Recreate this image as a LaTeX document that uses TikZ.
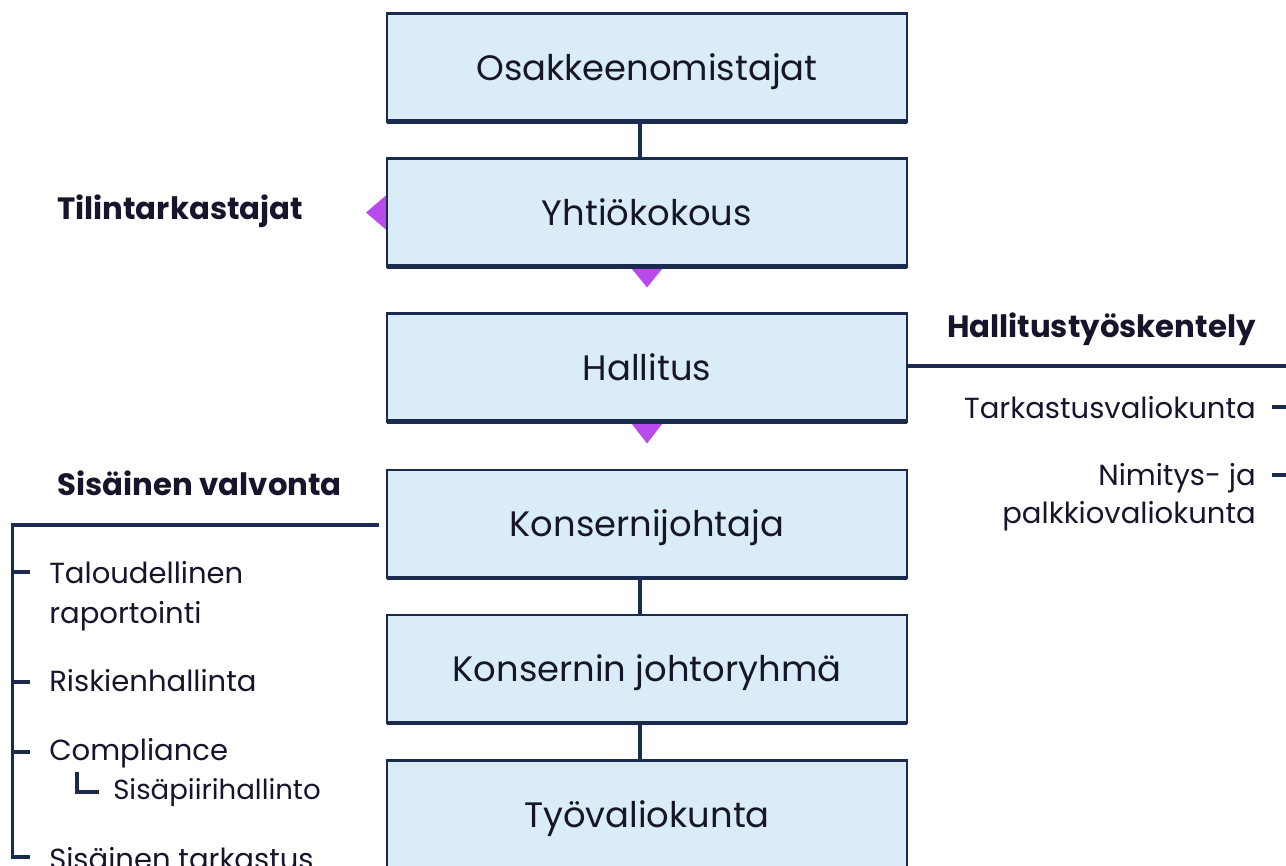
\documentclass[tikz,border=0pt]{standalone}
\usepackage{fontspec}
\setmainfont{Poppins}
\usetikzlibrary{calc,backgrounds}

\definecolor{navy}{HTML}{1B2B4D}
\definecolor{ink}{HTML}{17152C}
\definecolor{boxfill}{HTML}{D9ECF7}
\definecolor{violet}{HTML}{B94AEB}

\tikzset{
  orgbox/.style={draw=navy, line width=1.7pt, fill=boxfill, text=ink,
    minimum width=390pt, minimum height=81pt, inner sep=0pt, outer sep=0pt,
    text height=18.75pt, text depth=0pt, font=\fontsize{26.5pt}{30pt}\selectfont},
  basebar/.style={draw=navy, line width=3.2pt},
  link/.style={draw=navy, line width=2.5pt},
  rule/.style={draw=navy, line width=2.5pt},
  marker/.style={fill=violet},
  head/.style={text=ink, inner sep=0pt, font=\fontsize{23.1pt}{26pt}\selectfont\bfseries},
  item/.style={text=ink, inner sep=0pt, font=\fontsize{21.8pt}{26pt}\selectfont},
  subitem/.style={text=ink, inner sep=0pt, font=\fontsize{20.7pt}{24pt}\selectfont},
}

\begin{document}
\begin{tikzpicture}[x=0.75pt, y=-0.75pt]
\useasboundingbox (0,0) rectangle (1286,865);
\clip (0,0) rectangle (1286,865);

% governance chain
\node[orgbox] (b1) at (647,67.5)  {Osakkeenomistajat};
\node[orgbox] (b2) at (647,212.5) {Yhtiökokous};
\node[orgbox] (b3) at (647,367.5) {Hallitus};
\node[orgbox] (b4) at (647,524)   {Konsernijohtaja};
\node[orgbox] (b5) at (647,669)   {Konsernin johtoryhmä};
\node[orgbox] (b6) at (647,814.5) {Työvaliokunta};

% heavier lower edge of each box
\foreach \b in {b1,b2,b3,b4,b5,b6}
  \draw[basebar] (\b.south west) -- (\b.south east);

% vertical links
\draw[link] ($(b1.south)+(-7,0)$) -- ($(b2.north)+(-7,0)$);
\draw[link] ($(b4.south)+(-7,0)$) -- ($(b5.north)+(-7,0)$);
\draw[link] ($(b5.south)+(-7,0)$) -- ($(b6.north)+(-7,0)$);

% violet pointers tucked behind the boxes
\begin{pgfonlayer}{background}
  \fill[marker] ($(b2.west)+(0,-18)$) -- ($(b2.west)+(-21,0)$) -- ($(b2.west)+(0,18)$) -- cycle;
  \fill[marker] ($(b2.south)+(-17,0)$) -- ($(b2.south)+(17,0)$) -- ($(b2.south)+(0,21)$) -- cycle;
  \fill[marker] ($(b3.south)+(-17,0)$) -- ($(b3.south)+(17,0)$) -- ($(b3.south)+(0,22)$) -- cycle;
\end{pgfonlayer}

% auditors
\node[head, anchor=base west] (tilin) at (57,219) {Tilintarkastajat};

% board work (right)
\node[head, anchor=base east] (hallt) at (1256,337) {Hallitustyöskentely};
\coordinate (hend) at (1286,366);
\draw[rule] (b3.east |- hend) -- (hend);
\node[item, anchor=base east] (tark) at (1256,418) {Tarkastusvaliokunta};
\node[item, anchor=base east] (nim1) at (1256,485) {Nimitys- ja};
\node[item, anchor=base east] (nim2) at (1256,523) {palkkiovaliokunta};
\coordinate (tt0) at (1272,407);
\coordinate (tt1) at (1286,407);
\coordinate (nt0) at (1272,475);
\coordinate (nt1) at (1286,475);
\draw[rule] (tt0) -- (tt1);
\draw[rule] (nt0) -- (nt1);

% internal control (left)
\node[head, anchor=base west] (sisv) at (57,495) {Sisäinen valvonta};
\coordinate (svtop) at (12.7,525);
\coordinate (svbot) at (12.7,857);
\coordinate (svend) at (379,525);
\coordinate (sv4) at (30,857);
\draw[rule] (svend) -- (svtop) -- (svbot) -- (sv4);
\coordinate (sv1a) at (12.7,572);
\coordinate (sv1b) at (30,572);
\coordinate (sv2a) at (12.7,682);
\coordinate (sv2b) at (30,682);
\coordinate (sv3a) at (12.7,752);
\coordinate (sv3b) at (30,752);
\draw[rule] (sv1a) -- (sv1b);
\draw[rule] (sv2a) -- (sv2b);
\draw[rule] (sv3a) -- (sv3b);

\node[item, anchor=base west] (talo1) at (49,583) {Taloudellinen};
\node[item, anchor=base west] (talo2) at (49,623) {raportointi};
\node[item, anchor=base west] (risk) at (49,691) {Riskienhallinta};
\node[item, anchor=base west] (comp) at (49,760) {Compliance};
\node[subitem, anchor=base west] (sisap) at (113,799) {Sisäpiirihallinto};
\coordinate (la) at (77,772);
\coordinate (lb) at (77,792);
\coordinate (lc) at (99,792);
\draw[rule, line width=2.3pt] (la) -- (lb) -- (lc);
\node[item, anchor=base west] (sist) at (49,869) {Sisäinen tarkastus};
\end{tikzpicture}
\end{document}
